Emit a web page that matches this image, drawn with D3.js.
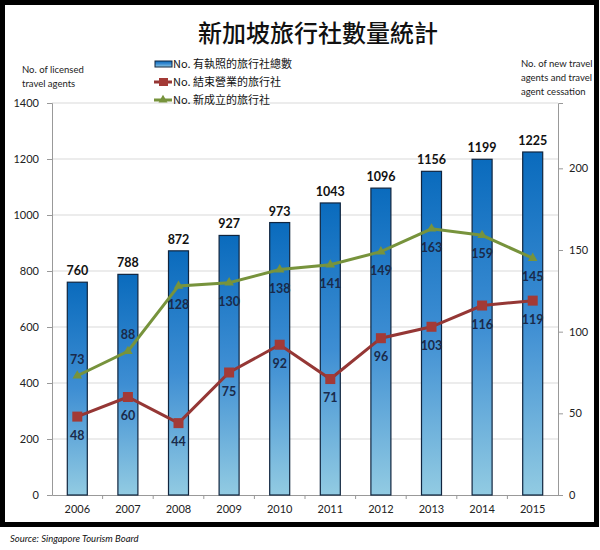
<!DOCTYPE html>
<html><head><meta charset="utf-8">
<script src="https://cdn.jsdelivr.net/npm/d3@7"></script>
<style>body{margin:0;background:#fff}</style>
</head><body>
<svg id="c" width="600" height="550"></svg>
<script>
const years = ["2006","2007","2008","2009","2010","2011","2012","2013","2014","2015"];
const licensed = [760,788,872,927,973,1043,1096,1156,1199,1225];
const ceased = [48,60,44,75,92,71,96,103,116,119];
const newAgents = [73,88,128,130,138,141,149,163,159,145];
const leftTicks = [0,200,400,600,800,1000,1200,1400];
const rightTicks = [0,50,100,150,200];
const legendLabels = ["No. 有執照的旅行社總數","No. 結束營業的旅行社","No. 新成立的旅行社"];

const svg = d3.select("#c");
const L = 52, R = 558, T = 103, B = 495;
const x = d3.scaleBand().domain(years).range([L, R]);
const yL = d3.scaleLinear().domain([0,1400]).range([B, T]);
const yR = d3.scaleLinear().domain([0,240]).range([B, T]);
const font = "Lato, 'Open Sans', sans-serif";

const defs = svg.append("defs");
const g = defs.append("linearGradient").attr("id","bg").attr("x1",0).attr("y1",0).attr("x2",0).attr("y2",1);
g.append("stop").attr("offset","0%").attr("stop-color","#0a6bbd");
g.append("stop").attr("offset","50%").attr("stop-color","#3e8ed3");
g.append("stop").attr("offset","100%").attr("stop-color","#92cbe2");

svg.append("rect").attr("x",0).attr("y",0).attr("width",600).attr("height",550).attr("fill","#fff");

// title
svg.append("text").attr("x",318).attr("y",42).attr("text-anchor","middle")
  .attr("font-family","'Noto Sans CJK TC','Noto Sans CJK SC',sans-serif").attr("font-weight",500)
  .attr("font-size",24).attr("fill","#111").text("新加坡旅行社數量統計");

// gridlines
svg.append("g").selectAll("line").data(leftTicks.filter(d=>d>0)).join("line")
  .attr("x1",L).attr("x2",R).attr("y1",d=>yL(d)).attr("y2",d=>yL(d))
  .attr("stroke","#d9d9d9").attr("stroke-width",1);

// left axis
const ax = svg.append("g").attr("transform",`translate(${L},0)`)
  .call(d3.axisLeft(yL).tickValues(leftTicks).tickFormat(d3.format("d")).tickSize(5).tickPadding(8));
ax.select(".domain").attr("stroke","#999");
ax.selectAll(".tick line").attr("stroke","#999");
ax.selectAll("text").attr("font-family",font).attr("font-size",11).attr("fill","#222");

// right axis
const ar = svg.append("g").attr("transform",`translate(${R},0)`)
  .call(d3.axisRight(yR).tickValues(rightTicks).tickFormat(d3.format("d")).tickSize(5).tickPadding(6));
ar.select(".domain").attr("stroke","#999");
ar.selectAll(".tick line").attr("stroke","#999");
ar.selectAll("text").attr("font-family",font).attr("font-size",11).attr("fill","#222");

// bottom axis
const ab = svg.append("g").attr("transform",`translate(0,${B})`)
  .call(d3.axisBottom(x).tickSize(0).tickPadding(10));
ab.select(".domain").attr("stroke","#999");
ab.selectAll("text").attr("font-family",font).attr("font-size",11).attr("fill","#222");
svg.append("g").selectAll("line").data(years.slice(1)).join("line")
  .attr("x1",d=>x(d)).attr("x2",d=>x(d)).attr("y1",B).attr("y2",B+4).attr("stroke","#999");

// bars
const bw = 20;
svg.append("g").selectAll("rect").data(years).join("rect")
  .attr("x",(d)=>x(d)+x.bandwidth()/2-bw/2).attr("width",bw)
  .attr("y",(d,i)=>yL(licensed[i])).attr("height",(d,i)=>B-yL(licensed[i]))
  .attr("fill","url(#bg)").attr("stroke","#10253f").attr("stroke-width",1.2);
svg.append("g").selectAll("text").data(years).join("text")
  .attr("x",d=>x(d)+x.bandwidth()/2).attr("y",(d,i)=>yL(licensed[i])-7)
  .attr("text-anchor","middle").attr("font-family",font).attr("font-weight",700)
  .attr("font-size",12.5).attr("fill","#111").text((d,i)=>licensed[i]);

const cx = d => x(d)+x.bandwidth()/2;
// lines
const line = arr => d3.line().x((d)=>cx(d)).y((d,i)=>yR(arr[i]))(years);
svg.append("path").attr("d",line(newAgents)).attr("fill","none").attr("stroke","#77933c").attr("stroke-width",3);
svg.append("path").attr("d",line(ceased)).attr("fill","none").attr("stroke","#953735").attr("stroke-width",3);
// markers
svg.append("g").selectAll("path").data(years).join("path")
  .attr("transform",(d,i)=>`translate(${cx(d)},${yR(newAgents[i])})`)
  .attr("d",d3.symbol(d3.symbolTriangle,40)()).attr("fill","#77933c");
svg.append("g").selectAll("rect").data(years).join("rect")
  .attr("x",d=>cx(d)-5).attr("y",(d,i)=>yR(ceased[i])-5).attr("width",10).attr("height",10)
  .attr("fill","#a33a36");
// line labels
const lblColor = "#1a2a4a";
svg.append("g").selectAll("text").data(years).join("text")
  .attr("x",d=>cx(d)).attr("y",(d,i)=> i<2 ? yR(newAgents[i])-12 : yR(newAgents[i])+23)
  .attr("text-anchor","middle").attr("font-family",font).attr("font-weight",700)
  .attr("font-size",12.5).attr("fill",lblColor).text((d,i)=>newAgents[i]);
svg.append("g").selectAll("text").data(years).join("text")
  .attr("x",d=>cx(d)).attr("y",(d,i)=>yR(ceased[i])+23)
  .attr("text-anchor","middle").attr("font-family",font).attr("font-weight",700)
  .attr("font-size",12.5).attr("fill",lblColor).text((d,i)=>ceased[i]);

// legend
svg.append("rect").attr("x",150).attr("y",55).attr("width",150).attr("height",46).attr("fill","#fff");
const lg = svg.append("g").attr("font-family","'Noto Sans CJK TC',sans-serif").attr("font-size",11);
const ly = [64,82,100];
lg.append("rect").attr("x",155).attr("y",ly[0]-3).attr("width",17).attr("height",6)
  .attr("fill","url(#bg)").attr("stroke","#10253f").attr("stroke-width",1);
lg.append("line").attr("x1",154).attr("x2",172).attr("y1",ly[1]).attr("y2",ly[1]).attr("stroke","#953735").attr("stroke-width",3);
lg.append("rect").attr("x",159).attr("y",ly[1]-4).attr("width",9).attr("height",8).attr("fill","#a33a36");
lg.append("line").attr("x1",154).attr("x2",172).attr("y1",ly[2]).attr("y2",ly[2]).attr("stroke","#77933c").attr("stroke-width",3);
lg.append("path").attr("transform",`translate(163,${ly[2]})`).attr("d",d3.symbol(d3.symbolTriangle,35)()).attr("fill","#77933c");
lg.selectAll("text").data(legendLabels).join("text")
  .attr("x",173).attr("y",(d,i)=>ly[i]+4).attr("fill","#111").text(d=>d);

// axis titles
const at = svg.append("g").attr("font-family",font).attr("font-size",9.5).attr("fill","#222");
[["No. of licensed",22,73],["travel agents",22,87]].forEach(a=>at.append("text").attr("x",a[1]).attr("y",a[2]).text(a[0]));
[["No. of new travel",521,67],["agents and travel",521,81],["agent cessation",521,95]].forEach(a=>at.append("text").attr("x",a[1]).attr("y",a[2]).text(a[0]));

// border
svg.append("rect").attr("x",2.5).attr("y",2.5).attr("width",594).attr("height",522).attr("fill","none").attr("stroke","#000").attr("stroke-width",5);

// source
svg.append("text").attr("x",10).attr("y",542).attr("font-family",font).attr("font-style","italic")
  .attr("font-size",9.5).attr("fill","#111").text("Source: Singapore Tourism Board");
</script>
</body></html>
